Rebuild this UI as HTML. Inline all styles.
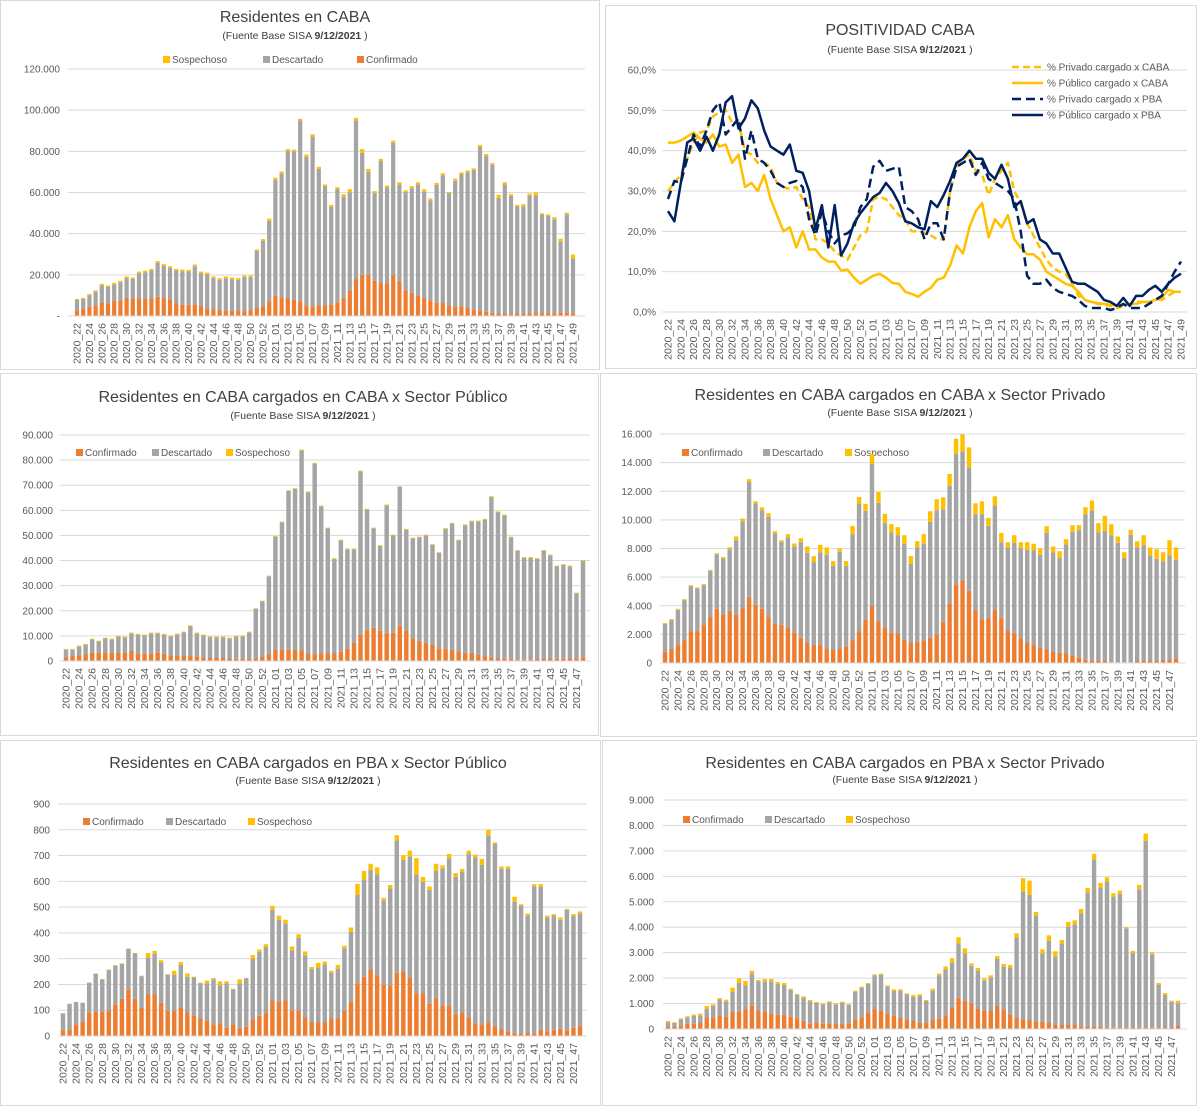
<!DOCTYPE html>
<html><head><meta charset="utf-8"><style>
html,body{margin:0;padding:0;background:#fff;}
svg{display:block;font-family:"Liberation Sans",sans-serif;}
</style></head><body>
<svg id="root" width="1200" height="1107" viewBox="0 0 1200 1107" xmlns="http://www.w3.org/2000/svg">
<rect x="0" y="0" width="1200" height="1107" fill="#fff"/>
<rect x="0.5" y="0.5" width="599" height="369" fill="none" stroke="#d9d9d9"/>
<rect x="605.5" y="5.5" width="591" height="363" fill="none" stroke="#d9d9d9"/>
<rect x="0.5" y="373.5" width="598" height="362" fill="none" stroke="#d9d9d9"/>
<rect x="600.5" y="373.5" width="596" height="363" fill="none" stroke="#d9d9d9"/>
<rect x="0.5" y="740.5" width="600" height="365" fill="none" stroke="#d9d9d9"/>
<rect x="602.5" y="740.5" width="594" height="365" fill="none" stroke="#d9d9d9"/>
<g id="g"></g>
</svg>
<script>
// ---------- categories ----------
const weeks81 = [];
for (let w = 22; w <= 53; w++) weeks81.push('2020_' + w);
for (let w = 1; w <= 49; w++) weeks81.push('2021_' + (w < 10 ? '0' + w : w));
const weeks80 = weeks81.slice(0, 80);

// ---------- chart 1: Residentes en CABA (thousands) ----------
const c1Conf = [2.8,3.4,4.4,5.2,6.5,6.2,7.6,7.5,8.8,8.3,8.9,8.3,8.5,9.3,8.8,8.1,6.3,5.5,5.5,5.5,5,3.7,3.3,2.9,2.8,2.4,2.4,2.4,2.8,3.9,4.7,7.2,9.8,8.8,8.5,8.1,7.2,5.2,4.7,5.2,5.2,5.7,6.7,8.9,12.5,18,20,20,17.1,15.8,15.8,20,17.1,12.5,11.2,9.9,8.8,7.6,6.5,6.3,5.2,4.7,4.7,3.9,3.1,2.6,2,1.6,1.2,1.2,0.8,1.2,1.2,1.2,1.4,1.4,1.4,1.4,1.8,1.8,1.4];
const c1Desc = [5.0,4.9,5.7,6.6,8.4,7.9,7.8,8.9,9.7,9.7,11.9,13.0,13.6,16.6,15.6,15.3,15.8,16.3,16.1,18.7,15.8,16.6,15.1,14.7,15.6,15.5,15.2,16.5,16.1,27.7,31.9,39.1,56.4,60.4,71.6,71.9,87.8,72.2,82.6,66.3,57.9,47.3,55.1,49.1,47.6,77.1,59.3,50,42.6,59.5,46.6,64.2,46.9,47.8,50.9,54.1,51.6,48.7,57.2,62.1,54.5,61,64.3,66,67.8,79.5,75.7,71.9,56.2,62.8,57.6,52,52.1,57.3,57.1,47.9,47.2,45.6,34.3,47.6,26.5];
const c1Sosp = [0.5,0.5,0.6,0.6,0.7,0.7,0.7,0.7,0.7,0.7,0.8,0.8,0.8,0.8,0.8,0.8,0.8,0.8,0.8,0.8,0.8,0.8,0.8,0.8,0.8,0.8,0.8,0.8,0.8,0.8,0.8,1,1,1,1,0.8,0.8,1,1,1,0.8,1,0.8,1.2,1.5,1.2,1.8,1.5,1,1,1,1,1,0.8,1,1,1.2,0.8,1,1,0.5,1,0.8,0.8,0.8,1,1,0.8,1.5,1,0.8,0.8,1,1,1.5,0.6,0.8,1,1.5,0.8,2];
const c1Ticks = ['-','20.000','40.000','60.000','80.000','100.000','120.000'];

// ---------- chart 2: Positividad (%) ----------
const c2PrivCaba = [30,32,34,38,42,44.5,45,48.5,49.5,50,47,47,40,39,37,37,36,32,31,30.5,31,28,26,18,18,17,15,14,13,16,19,20,28,28.5,28,26,24,23,20,20,19.5,19,18,18,30,36,38,39,35,34,29,33,35,37,30,27,22,19,16,13,11,10,9.5,7,4,3,2.5,2,1.8,1.5,1,1.5,2,2.5,2.5,2.5,3,3,4,5,5];
const c2PubCaba = [42,42,42.5,43.5,44.5,43,42,44,41,41.5,37,39,31,32,30,34,28,24,20,21,16,20,15.5,15.5,13.5,12.5,12.5,10.3,10.5,8.5,7,8,9,9.5,8.5,7.2,7,5,4.5,3.8,5,6,8,8.5,11.5,16.5,14.5,21,25,27,18.5,23,21,24,18,16,14.3,14.3,13,10,9,8,7,6.5,5,3,2.5,2.2,2,1.8,1.5,1.8,2,2,2.5,2.5,3,3.5,5.5,5,5];
const c2PrivPba = [28,32.5,32,38,44,41,45,50,52,44,46,48,38,45,38,37,35,32,31,32,32.5,31,23,19,25,20,17,19,19.5,21,26,28,36,37.5,35,35.5,36,26,25,23,18,22,22,18,30,36,37,38,34,37,33,32,31,30,28,20,9,7,7,8,6,5,4.5,4,3,1.5,1,1,1,0.5,1,2,1,1,1,2,3,4,7,10,12.5];
const c2PubPba = [25,22.5,32,42,43,40,43.5,40,44,52,53.5,45.5,48,52.5,50.5,45,41,40,39,41.5,35,34.5,30,20.5,26.5,16,26.5,14,17,22,24.5,26.5,28.5,29.5,32,30,27,22.5,22,21,20.5,27.5,26,29,32.5,37,38,40,38,38,34.5,33,36.5,33,26,27.5,22,23,18,17,14.5,14.5,11,7.5,7,7,6,5,3,2.5,1.5,3.5,1.5,4,4,5.5,6.5,5,7,8.5,9.5];
const c2Ticks = ['0,0%','10,0%','20,0%','30,0%','40,0%','50,0%','60,0%'];
const c2Legend = ['% Privado cargado x CABA','% Público cargado x CABA','% Privado cargado x PBA','% Público cargado x PBA'];

// ---------- chart 3: CABA x Sector Público (thousands) ----------
const c3Conf = [1.5,2,2.3,2.6,3.5,3.3,3.5,3.2,3.5,3.2,4,2.9,2.9,2.9,3.3,2.9,2.2,2,2.3,2,1.9,1.5,1.2,1.2,1.2,1,0.9,0.9,0.9,1.1,1.6,2.6,4.4,4.4,4.4,4.4,4.2,3,2.7,3,3,3,3.7,4.8,7.2,10.5,12.3,13.2,12,11.2,11.2,14,12.2,9,8,7.2,6.4,5.1,4.8,4.5,3.6,3.3,3.3,2.4,1.8,1.5,1,0.9,0.9,0.5,0.5,0.5,0.8,0.8,0.8,0.9,0.9,1.1,1.1,1.5];
const c3Desc = [3.0,2.5,3.5,3.9,5.1,4.5,5.5,5.4,6.3,6.2,7.0,7.6,7.3,8.1,7.7,7.6,7.6,8.6,9.1,11.9,9.1,8.7,8.3,8.3,8.3,8.0,8.9,8.9,10.5,19.6,22.1,31.1,45.1,50.8,63.3,64.1,79.7,64.2,75.9,58.6,49.8,37.6,44.3,39.7,37.3,65.0,48.0,39.6,33.8,50.8,38.8,55.3,40.1,39.8,41.2,42.8,39.8,37.9,47.8,50.2,44.4,50.8,52.3,53.2,54.5,63.8,58.3,57.1,48.3,43.4,40.6,40.6,39.9,43.1,41.3,36.8,37.4,36.6,25.8,38.4];
const c3Sosp = [0.3,0.3,0.3,0.3,0.3,0.3,0.3,0.3,0.3,0.3,0.3,0.3,0.3,0.3,0.3,0.3,0.3,0.3,0.3,0.3,0.3,0.3,0.3,0.3,0.3,0.3,0.3,0.3,0.3,0.3,0.3,0.3,0.3,0.3,0.3,0.3,0.3,0.3,0.3,0.3,0.3,0.3,0.3,0.3,0.3,0.3,0.3,0.3,0.3,0.3,0.3,0.3,0.3,0.3,0.3,0.3,0.3,0.3,0.3,0.3,0.3,0.3,0.3,0.3,0.3,0.3,0.3,0.3,0.3,0.3,0.3,0.3,0.3,0.3,0.3,0.3,0.3,0.3,0.3,0.3];
const c3Ticks = ['0','10.000','20.000','30.000','40.000','50.000','60.000','70.000','80.000','90.000'];

// ---------- chart 4: CABA x Sector Privado ----------
const c4Conf = [790,980,1300,1600,2230,2230,2650,3210,3790,3400,3650,3400,3840,4630,4070,3790,3260,2720,2670,2490,2140,1770,1400,1260,1300,1020,910,980,1140,1600,2230,3020,3980,2930,2470,2090,2090,1630,1400,1490,1580,1770,2000,2880,4120,5490,5770,5050,3700,3070,3160,3700,3160,2280,2090,1720,1440,1300,1050,980,770,700,700,530,400,230,190,190,140,50,50,50,50,140,140,140,140,210,210,330];
const c4Desc = [1930,2020,2420,2800,3140,2980,2790,3230,3810,3900,4300,5180,6060,8020,7070,6860,6950,6330,5800,6300,6020,6670,6300,5790,6440,6540,5880,6790,5650,7400,8910,7610,9950,8260,7300,7030,6820,6700,5530,6600,6750,8090,8670,7860,8250,9110,9020,8620,6700,7330,6420,7300,5280,5810,6310,6280,6470,6560,6510,8110,6970,6630,7580,8630,8880,10170,10460,8950,9090,8880,8350,7300,8900,7930,8070,7390,7140,6880,7320,6880];
const c4Sosp = [70,70,70,60,70,70,70,70,70,100,140,260,190,190,160,230,260,160,110,210,190,280,440,420,520,510,330,230,330,580,460,490,670,760,650,580,580,600,540,420,670,740,770,840,840,1070,1190,1400,760,900,560,650,650,350,530,440,530,470,440,470,400,480,370,470,350,480,700,630,1050,770,440,390,350,440,720,540,670,650,1050,860];
const c4Ticks = ['0','2.000','4.000','6.000','8.000','10.000','12.000','14.000','16.000'];

// ---------- chart 5: PBA x Sector Público ----------
const c5Conf = [22,26,46,54,89,93,93,100,123,144,180,144,109,161,161,129,97,97,109,93,79,68,61,45,50,32,46,29,36,65,78,89,138,132,138,100,100,72,54,54,54,68,68,97,132,204,230,258,235,199,197,245,250,225,165,165,125,146,119,119,84,89,72,50,45,52,38,27,18,10,8,14,8,24,18,24,28,22,32,40];
const c5Desc = [66,99,86,75,118,148,126,156,150,136,158,176,123,143,158,156,141,141,167,137,149,137,143,175,147,172,135,175,187,234,249,257,351,319,298,232,281,241,207,212,224,177,193,243,272,343,377,387,393,327,375,514,433,471,461,433,442,494,532,571,533,547,634,643,619,727,707,622,631,511,498,453,573,555,442,443,423,467,435,435];
const c5Sosp = [0,0,0,0,0,2,2,2,2,2,2,2,2,18,11,9,2,15,11,13,2,2,11,5,15,8,2,16,2,15,9,10,16,16,15,15,14,15,7,18,11,8,15,10,17,43,33,23,26,10,14,20,18,23,64,19,13,28,11,16,15,12,13,11,23,21,6,9,9,19,5,8,8,10,7,6,9,4,6,8];
const c5Ticks = ['0','100','200','300','400','500','600','700','800','900'];

// ---------- chart 6: PBA x Sector Privado ----------
const c6Conf = [79,79,131,210,210,236,433,459,537,485,682,682,786,931,708,682,603,564,564,485,419,315,210,262,210,210,210,210,210,380,459,629,786,708,590,537,433,354,315,236,236,380,406,537,852,1232,1127,983,786,708,708,904,760,564,433,380,354,301,288,236,157,157,157,157,105,79,79,79,52,52,52,52,52,52,52,52,39,39,39,118];
const c6Desc = [183,157,249,249,301,301,353,458,629,603,773,1127,931,1245,1166,1192,1271,1205,1166,1062,918,917,878,760,760,838,760,825,734,1088,1166,1153,1324,1428,1074,957,1061,1009,956,1061,865,1127,1704,1809,1756,2136,1848,1507,1494,1192,1310,1848,1691,1847,3158,5020,4915,4155,2687,3224,2687,3198,3867,3958,4430,5295,6592,5478,5741,5151,5256,3906,2936,5439,7340,2871,1704,1311,1036,891];
const c6Sosp = [53,26,39,39,53,66,118,53,53,65,170,183,170,118,53,92,92,79,79,39,39,52,52,40,39,40,39,40,26,39,39,27,39,40,53,66,66,39,66,66,39,79,66,118,171,236,197,92,118,92,92,118,105,105,170,524,563,144,157,223,210,144,183,158,183,170,210,183,170,131,131,52,79,171,288,91,66,65,39,105];
const c6Ticks = ['0','1.000','2.000','3.000','4.000','5.000','6.000','7.000','8.000','9.000'];

// ---------- colours ----------
const COL_CONF = '#ED7D31', COL_DESC = '#A5A5A5', COL_SOSP = '#FFC000';
const NAVY = '#002060';
const NS = 'http://www.w3.org/2000/svg';
const G = document.getElementById('g');

function mk(tag, attrs, parent) {
  const e = document.createElementNS(NS, tag);
  for (const k in attrs) e.setAttribute(k, attrs[k]);
  (parent || G).appendChild(e);
  return e;
}
function txt(s, attrs, parent) {
  const e = mk('text', attrs, parent);
  e.textContent = s;
  return e;
}

function header(cx, ty, sy, title, name) {
  const t = txt(title, {x: cx, y: ty, 'text-anchor': 'middle', 'font-size': 16, fill: '#404040'});
  
  
  const s = txt('', {x: cx, y: sy, 'text-anchor': 'middle', 'font-size': 10.5, fill: '#404040'});
  
  
  const a = mk('tspan', {}, s); a.textContent = '(Fuente  Base SISA   ';
  const b = mk('tspan', {'font-weight': 'bold'}, s); b.textContent = '9/12/2021';
  const c = mk('tspan', {}, s); c.textContent = ' )';
}

function legendBox(x, y, color, label, name) {
  const r = mk('rect', {x: x, y: y - 7, width: 7, height: 7, fill: color});
  
  
  const t = txt(label, {x: x + 9, y: y, 'font-size': 10, fill: '#595959'});
  
  
}

function yAxisGrid(cfg, ticks) {
  const n = ticks.length - 1;
  for (let i = 0; i <= n; i++) {
    const y = cfg.y0 - (cfg.y0 - cfg.yTop) * i / n;
    const l = mk('line', {x1: cfg.gx0, x2: cfg.gx1, y1: y, y2: y, stroke: '#d9d9d9', 'stroke-width': 1});
    
    
    const t = txt(ticks[i], {x: cfg.lx, y: y + 3.5, 'text-anchor': 'end', 'font-size': 10, fill: '#595959'});
    
    
  }
}

function xLabels(cfg, cats, xf) {
  for (let i = 0; i < cats.length; i += 2) {
    const x = xf(i) + 3.5, y = cfg.y0 + 7;
    const t = txt(cats[i], {x: x, y: y, 'text-anchor': 'end', 'font-size': 10.5, fill: '#595959', transform: 'rotate(-90 ' + x + ' ' + y + ')'});
    
    
  }
}

function barChart(cfg, cats, conf, desc, sosp, ticks) {
  yAxisGrid(cfg, ticks);
  const n = cats.length;
  const band = (cfg.xl - cfg.xf) / (n - 1);
  const bw = band * 0.68;
  const xf = i => cfg.xf + band * i;
  const yf = v => cfg.y0 - (cfg.y0 - cfg.yTop) * v / cfg.max;
  for (let i = 0; i < n; i++) {
    let base = 0;
    const segs = [[conf[i], COL_CONF, 'confirmado'], [desc[i], COL_DESC, 'descartado'], [sosp[i], COL_SOSP, 'sospechoso']];
    for (const s of segs) {
      const yb = yf(base), yt = yf(base + s[0]);
      const r = mk('rect', {x: xf(i) - bw / 2, y: yt, width: bw, height: Math.max(0, yb - yt), fill: s[1]});
      
      
      base += s[0];
    }
  }
  const ax = mk('line', {x1: cfg.gx0, x2: cfg.gx1, y1: cfg.y0, y2: cfg.y0, stroke: '#d9d9d9'});
  
  
  xLabels(cfg, cats, xf);
}

// ---- chart 1 ----
header(295, 22, 39, 'Residentes en CABA', 'residentes-caba');
legendBox(163, 63, COL_SOSP, 'Sospechoso', 'legend-sospechoso');
legendBox(263, 63, COL_DESC, 'Descartado', 'legend-descartado');
legendBox(357, 63, COL_CONF, 'Confirmado', 'legend-confirmado');
barChart({name: 'residentes-caba', y0: 316, yTop: 69, max: 120, gx0: 68, gx1: 585, lx: 60, xf: 77, xl: 573},
  weeks81, c1Conf, c1Desc, c1Sosp, c1Ticks);

// ---- chart 2 ----
header(900, 35, 53, 'POSITIVIDAD CABA', 'positividad');
(function () {
  const cfg = {name: 'positividad', y0: 312, yTop: 70, gx0: 662, gx1: 1187, lx: 656};
  yAxisGrid(cfg, c2Ticks);
  const x0 = 668, x1 = 1181, n = weeks81.length;
  const xf = i => x0 + (x1 - x0) * i / (n - 1);
  const yf = v => cfg.y0 - (cfg.y0 - cfg.yTop) * v / 60;
  const series = [
    [c2PrivCaba, COL_SOSP, '7,4', 'line-privado-caba'],
    [c2PubCaba, COL_SOSP, '', 'line-publico-caba'],
    [c2PrivPba, NAVY, '9,5', 'line-privado-pba'],
    [c2PubPba, NAVY, '', 'line-publico-pba']
  ];
  for (const s of series) {
    const pts = s[0].map((v, i) => xf(i).toFixed(1) + ',' + yf(v).toFixed(1)).join(' ');
    const p = mk('polyline', {points: pts, fill: 'none', stroke: s[1], 'stroke-width': 2.5, 'stroke-dasharray': s[2] || 'none', 'stroke-linejoin': 'round'});
    
    
  }
  xLabels(cfg, weeks81, xf);
  for (let k = 0; k < 4; k++) {
    const y = 67 + 16 * k;
    const l = mk('line', {x1: 1012, x2: 1043, y1: y, y2: y, stroke: series[k][1], 'stroke-width': 2.5, 'stroke-dasharray': series[k][2] || 'none'});
    
    
    const t = txt(c2Legend[k], {x: 1047, y: y + 3.5, 'font-size': 10, fill: '#595959'});
    
    
  }
})();

// ---- chart 3 ----
header(303, 402, 419, 'Residentes en CABA cargados en CABA x Sector Público', 'caba-publico');
legendBox(76, 456, COL_CONF, 'Confirmado', 'legend-confirmado');
legendBox(152, 456, COL_DESC, 'Descartado', 'legend-descartado');
legendBox(226, 456, COL_SOSP, 'Sospechoso', 'legend-sospechoso');
barChart({name: 'caba-publico', y0: 661, yTop: 435, max: 90, gx0: 60, gx1: 590, lx: 53, xf: 66, xl: 583},
  weeks80, c3Conf, c3Desc, c3Sosp, c3Ticks);

// ---- chart 4 ----
header(900, 400, 416, 'Residentes en CABA cargados en CABA x Sector Privado', 'caba-privado');
legendBox(682, 456, COL_CONF, 'Confirmado', 'legend-confirmado');
legendBox(763, 456, COL_DESC, 'Descartado', 'legend-descartado');
legendBox(845, 456, COL_SOSP, 'Sospechoso', 'legend-sospechoso');
barChart({name: 'caba-privado', y0: 663, yTop: 434, max: 16000, gx0: 660, gx1: 1185, lx: 652, xf: 665, xl: 1176},
  weeks80, c4Conf, c4Desc, c4Sosp, c4Ticks);

// ---- chart 5 ----
header(308, 768, 784, 'Residentes en CABA cargados en PBA x Sector Público', 'pba-publico');
legendBox(83, 825, COL_CONF, 'Confirmado', 'legend-confirmado');
legendBox(166, 825, COL_DESC, 'Descartado', 'legend-descartado');
legendBox(248, 825, COL_SOSP, 'Sospechoso', 'legend-sospechoso');
barChart({name: 'pba-publico', y0: 1036, yTop: 804, max: 900, gx0: 58, gx1: 587, lx: 50, xf: 63, xl: 580},
  weeks80, c5Conf, c5Desc, c5Sosp, c5Ticks);

// ---- chart 6 ----
header(905, 768, 783, 'Residentes en CABA cargados en PBA x Sector Privado', 'pba-privado');
legendBox(683, 823, COL_CONF, 'Confirmado', 'legend-confirmado');
legendBox(765, 823, COL_DESC, 'Descartado', 'legend-descartado');
legendBox(846, 823, COL_SOSP, 'Sospechoso', 'legend-sospechoso');
barChart({name: 'pba-privado', y0: 1029, yTop: 800, max: 9000, gx0: 663, gx1: 1187, lx: 654, xf: 668, xl: 1178},
  weeks80, c6Conf, c6Desc, c6Sosp, c6Ticks);
</script>
</body></html>
